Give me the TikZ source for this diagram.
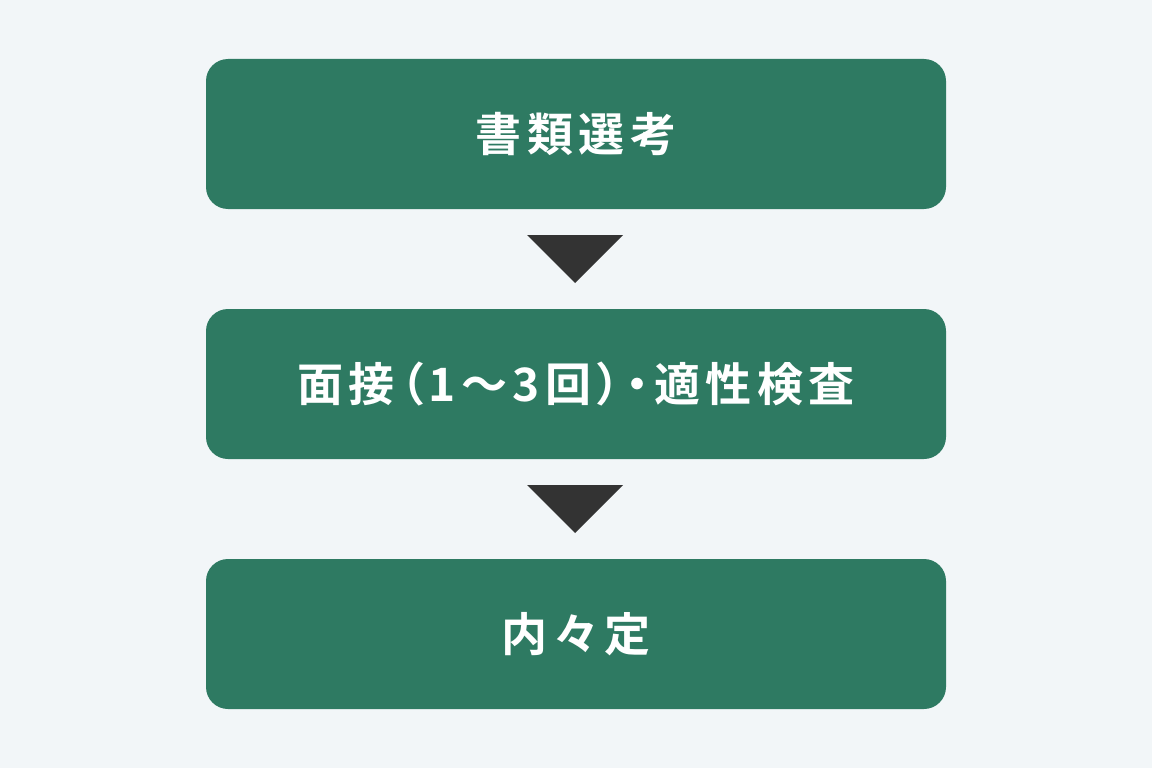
\documentclass[tikz,border=0pt]{standalone}
\usepackage{fontspec}
\newfontfamily\cjk{Noto Sans CJK JP}[BoldFont={Noto Sans CJK JP Bold},LetterSpace=12,RawFeature=+palt]
\definecolor{bgc}{HTML}{F2F6F8}
\definecolor{boxc}{HTML}{2E7A62}
\definecolor{arrc}{HTML}{333333}
\tikzset{
  stepbox/.style={fill=boxc, rounded corners=22pt, minimum width=740pt, minimum height=150pt, inner sep=0pt,
    text=white, font=\cjk\bfseries\fontsize{46pt}{54pt}\selectfont},
  tri/.style={fill=arrc}
}
\begin{document}
\begin{tikzpicture}[x=1pt,y=-1pt]
\fill[bgc] (0,0) rectangle (1152,768);
\useasboundingbox (0,0) rectangle (1152,768);
\node[stepbox] (a) at (576,134) {書類選考};
\node[stepbox] (b) at (576,384) {面接（1〜3回）・適性検査};
\node[stepbox] (c) at (576,634) {内々定};
\coordinate (t1l) at (527,235);
\coordinate (t1r) at (623,235);
\coordinate (t1a) at (575,283);
\coordinate (t2l) at (527,485);
\coordinate (t2r) at (623,485);
\coordinate (t2a) at (575,533);
\fill[tri] (t1l) -- (t1r) -- (t1a) -- cycle;
\fill[tri] (t2l) -- (t2r) -- (t2a) -- cycle;
\end{tikzpicture}
\end{document}
